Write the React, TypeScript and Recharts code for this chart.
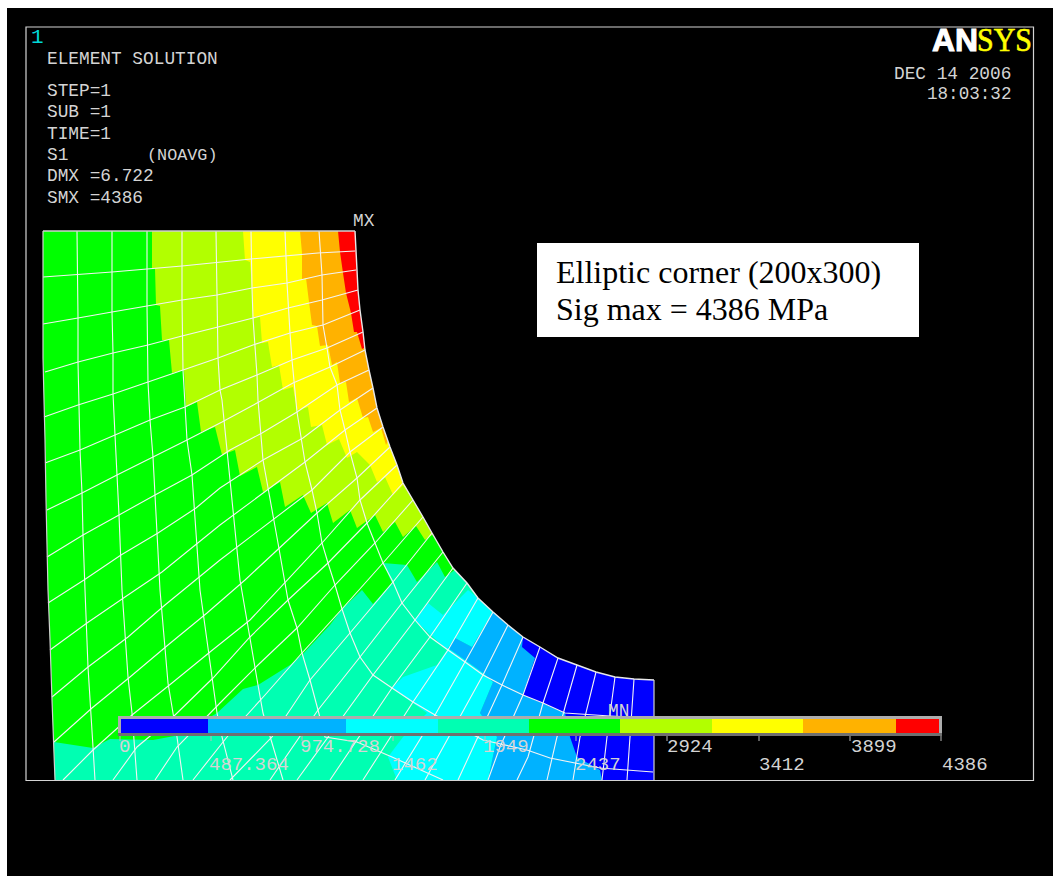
import React from 'react';
import { ScatterChart, Scatter, XAxis, YAxis } from 'recharts';

type P = [number, number];

// contour band colours, lowest to highest stress
const bandColors = ['#0000ff', '#00b2ff', '#00ffff', '#00ffb2', '#00ff00', '#b2ff00', '#ffff00', '#ffb200', '#ff0000'];
const barEdges = [121, 208, 346, 438, 529, 620, 712, 803, 896, 939];
const tickXs = [120, 211, 302, 393, 485, 576, 667, 759, 850, 941];
const legendValues = ['0', '487.364', '974.728', '1462', '1949', '2437', '2924', '3412', '3899', '4386'];
const legendLabelXs = [119, 209, 300, 392, 483, 575, 667, 759, 851, 942];
const headerLines = ['ELEMENT SOLUTION', 'STEP=1', 'SUB =1', 'TIME=1', 'S1', 'DMX =6.722', 'SMX =4386'];
const headerRows = [64, 96, 117, 139, 160, 181, 203];

const surface: P[] = [[355, 231], [357, 270], [358, 290], [360, 310], [363, 332], [365, 350], [369, 370], [373, 388], [377, 408], [383, 427], [390, 447], [397, 465], [403, 483], [413, 500], [423, 517], [432, 533], [443, 552], [453, 568], [467, 583], [478, 598], [493, 612], [508, 625], [523, 637], [540, 647], [558, 658], [577, 665], [596, 672], [615, 677], [634, 679], [654, 680]];
const leftEdge: P[] = [[43, 231], [43, 358], [44, 400], [45, 440], [46, 500], [48, 590], [50, 640], [52, 700], [55, 780]];

const greenBase: P[] = [...leftEdge, [654, 780], [654, 231]];
const limeBand: P[] = [[152, 231], [152, 268], [155, 268], [156, 305], [160, 306], [162, 340], [169, 340], [172, 373], [184, 370], [186, 407], [197, 402], [201, 432], [215, 427], [222, 455], [235, 450], [240, 476], [257, 467], [263, 492], [280, 482], [285, 507], [303, 495], [311, 513], [327, 503], [333, 523], [350, 510], [357, 528], [375, 515], [383, 532], [395, 522], [403, 537], [416, 526], [425, 540], [432, 535], [450, 540], [450, 231]];
const yellowBand: P[] = [[243, 231], [245, 260], [250, 262], [252, 288], [253, 318], [260, 317], [262, 343], [268, 342], [272, 367], [279, 365], [283, 390], [293, 387], [297, 410], [308, 407], [311, 427], [322, 425], [327, 445], [339, 439], [347, 458], [357, 452], [370, 465], [377, 482], [385, 477], [393, 495], [403, 485], [413, 500], [440, 500], [440, 231]];
const orangeBand: P[] = [[300, 231], [302, 253], [302, 280], [306, 278], [309, 302], [312, 325], [317, 326], [320, 346], [328, 345], [332, 365], [337, 362], [340, 383], [346, 382], [349, 402], [357, 398], [363, 418], [368, 417], [373, 432], [381, 428], [386, 445], [388, 441], [410, 441], [410, 231]];
const redBand: P[] = [[338, 231], [340, 252], [343, 273], [346, 293], [351, 313], [354, 332], [357, 332], [362, 349], [364, 348], [380, 348], [380, 231]];
const tealBand: P[] = [[54, 742], [93, 748], [110, 739], [153, 740], [180, 735], [217, 713], [243, 689], [258, 685], [290, 665], [302, 655], [330, 625], [342, 609], [362, 590], [373, 604], [392, 583], [383, 563], [407, 565], [417, 582], [437, 562], [445, 577], [456, 569], [654, 569], [654, 780], [55, 780]];
const cyanBand: P[] = [[415, 620], [428, 603], [443, 615], [468, 590], [480, 600], [493, 612], [472, 647], [455, 638], [448, 648], [465, 660], [483, 673], [493, 682], [480, 713], [497, 737], [488, 780], [397, 780], [388, 757], [403, 737], [427, 713], [392, 688], [403, 677], [437, 665], [447, 650]];
const skyBand: P[] = [[493, 612], [530, 612], [654, 780], [488, 780], [497, 737], [480, 713], [493, 682], [483, 673], [465, 660], [448, 648], [455, 638], [472, 647]];
const blueBand: P[] = [[523, 637], [560, 640], [654, 670], [654, 780], [602, 780], [600, 770], [577, 757], [570, 737], [565, 713], [542, 703], [523, 695], [535, 658], [522, 647]];
const outside: P[] = [...surface, [654, 780], [1033, 780], [1033, 231]];

const bandShapes: { pts: P[]; level: number }[] = [
  { pts: greenBase, level: 4 }, { pts: limeBand, level: 5 }, { pts: yellowBand, level: 6 },
  { pts: orangeBand, level: 7 }, { pts: redBand, level: 8 }, { pts: tealBand, level: 3 },
  { pts: cyanBand, level: 2 }, { pts: skyBand, level: 1 }, { pts: blueBand, level: 0 },
];

// element edges running from the free surface back to the left / bottom boundary
const meshA: P[][] = [
  [[43, 277], [112, 272], [182, 266], [251, 259], [318, 253], [355, 251]],
  [[43, 324], [78, 318], [112, 312], [147, 306], [182, 300], [217, 295], [252, 288], [287, 283], [322, 275], [356, 270]],
  [[45, 372], [78, 362], [113, 353], [148, 345], [182, 336], [218, 327], [253, 318], [288, 308], [322, 300], [358, 290]],
  [[44, 417], [78, 405], [113, 394], [148, 382], [183, 370], [218, 358], [253, 345], [290, 333], [323, 325], [360, 310]],
  [[45, 463], [80, 450], [115, 435], [150, 420], [185, 407], [220, 390], [257, 375], [292, 360], [327, 348], [363, 332]],
  [[47, 510], [82, 493], [117, 475], [153, 457], [187, 440], [222, 422], [257, 403], [293, 383], [330, 367], [365, 350]],
  [[47, 557], [83, 535], [119, 515], [155, 495], [192, 475], [230, 450], [262, 433], [297, 412], [337, 385], [369, 370]],
  [[48, 603], [84, 580], [121, 555], [158, 533], [196, 508], [220, 488], [263, 460], [303, 438], [340, 410], [373, 388]],
  [[50, 650], [87, 623], [125, 597], [162, 572], [220, 525], [305, 462], [345, 430], [377, 408]],
  [[52, 697], [88, 667], [128, 637], [165, 605], [220, 560], [312, 490], [350, 452], [383, 427]],
  [[54, 742], [92, 708], [130, 677], [168, 645], [207, 613], [245, 580], [317, 513], [357, 478], [390, 447]],
  [[63, 780], [93, 750], [132, 715], [172, 683], [210, 652], [250, 620], [322, 543], [360, 500], [397, 465]],
  [[113, 780], [137, 747], [173, 717], [213, 678], [250, 637], [288, 600], [328, 563], [367, 523], [403, 483]],
  [[155, 780], [177, 747], [220, 703], [258, 665], [297, 628], [335, 585], [375, 543], [413, 500]],
  [[193, 780], [227, 737], [265, 695], [302, 653], [342, 609], [383, 563], [423, 517]],
  [[230, 780], [272, 737], [310, 680], [350, 633], [393, 582], [432, 533]],
  [[270, 780], [318, 710], [360, 657], [402, 603], [443, 552]],
  [[297, 780], [373, 675], [415, 620], [453, 568]],
  [[330, 780], [392, 688], [430, 637], [467, 583]],
  [[363, 780], [413, 702], [448, 650], [478, 598]],
  [[395, 780], [435, 715], [465, 662], [493, 612]],
  [[425, 780], [483, 675], [508, 625]],
  [[458, 780], [502, 685], [523, 637]],
  [[488, 780], [500, 747], [523, 695], [540, 647]],
  [[517, 780], [528, 757], [543, 703], [558, 658]],
  [[547, 780], [557, 737], [565, 707], [577, 665]],
  [[573, 780], [580, 737], [596, 672]],
  [[602, 780], [607, 737], [615, 677]],
  [[627, 780], [630, 737], [634, 679]],
];

// element edges running roughly parallel to the left boundary and round the notch
const meshB: P[][] = [
  [[77, 231], [78, 318], [78, 362], [80, 450], [82, 493], [83, 535], [85, 590], [88, 667], [93, 747], [95, 780]],
  [[112, 231], [112, 312], [113, 353], [113, 394], [115, 435], [119, 515], [122, 590], [128, 677], [132, 713], [137, 780]],
  [[147, 231], [147, 306], [148, 382], [150, 420], [153, 457], [155, 495], [160, 590], [168, 683], [173, 713], [177, 737], [183, 780]],
  [[182, 231], [182, 300], [183, 370], [187, 440], [192, 475], [200, 590], [217, 713], [222, 737], [233, 780]],
  [[216, 231], [217, 295], [218, 358], [220, 390], [222, 400], [240, 580], [258, 685], [263, 713], [272, 743], [283, 780]],
  [[251, 231], [252, 288], [253, 318], [257, 375], [258, 400], [263, 460], [278, 543], [288, 600], [297, 628], [302, 653], [310, 680], [318, 710], [325, 737], [357, 742], [392, 757], [443, 780]],
  [[285, 231], [287, 283], [290, 333], [292, 360], [297, 412], [305, 462], [312, 490], [317, 513], [322, 543], [328, 563], [335, 585], [342, 609], [350, 633], [360, 657], [373, 675], [392, 688], [413, 702], [435, 715], [483, 740], [527, 750], [550, 758], [600, 768], [653, 772]],
  [[319, 231], [322, 275], [323, 325], [327, 348], [330, 367], [337, 385], [340, 410], [345, 430], [350, 452], [357, 478], [360, 500], [367, 523], [375, 543], [383, 563], [393, 582], [402, 603], [415, 620], [430, 637], [448, 650], [465, 662], [483, 675], [502, 685], [523, 695], [543, 703], [565, 713], [610, 716], [654, 718]],
];

const toPts = (a: P[]) => a.map(([x, y]) => ({ x, y }));
const noMark = () => null;

const area = (key: string, pts: P[], fill: string, stroke = 'none', strokeWidth = 1) => (
  <Scatter key={key} data={toPts(pts)} shape={noMark} isAnimationActive={false} lineJointType="linearClosed"
    line={{ fill, stroke, strokeWidth } as any} />
);
const path = (key: string, pts: P[], stroke: string, strokeWidth = 1.1) => (
  <Scatter key={key} data={toPts(pts)} shape={noMark} isAnimationActive={false}
    line={{ stroke, strokeWidth, fill: 'none' } as any} />
);
const label = (key: string, text: string, x: number, y: number, style: any) => (
  <Scatter key={key} data={[{ x, y }]} isAnimationActive={false}
    shape={(p: any) => <text x={p.cx} y={p.cy} style={{ whiteSpace: 'pre' }} {...style}>{text}</text>} />
);

const mono = { fontFamily: '"Liberation Mono", monospace', fill: '#d4d4d4' };
const serif = { fontFamily: '"Liberation Serif", serif', fill: '#000', fontSize: 32 };

export default function App() {
  return (
    <div style={{ position: 'absolute', left: 0, top: 0, width: 1053, height: 876, overflow: 'hidden', background: '#fff' }}>
      <ScatterChart width={1053} height={876} margin={{ top: 0, right: 0, bottom: 0, left: 0 }}>
        <XAxis type="number" dataKey="x" domain={[0, 1053]} hide allowDataOverflow />
        <YAxis type="number" dataKey="y" domain={[0, 876]} reversed hide allowDataOverflow />
        {area('bg', [[7, 8], [1053, 8], [1053, 876], [7, 876]], '#000')}
        {bandShapes.map((b, i) => area('band' + i, b.pts, bandColors[b.level]))}
        {area('outside', outside, '#000')}
        {meshA.map((l, i) => path('a' + i, l, '#f4f4f4'))}
        {meshB.map((l, i) => path('b' + i, l, '#f4f4f4'))}
        {path('surface', surface, '#e8e8e8', 1.4)}
        {path('left', leftEdge, '#d0d0d0', 1.2)}
        {path('top', [[43, 231], [355, 231]], '#d0d0d0', 1.4)}
        {path('right', [[654, 680], [654, 780]], '#d0d0d0', 1.2)}
        {area('frame', [[26, 27], [1033.5, 27], [1033.5, 780.5], [26, 780.5]], 'none', '#d4d4d4', 1.2)}

        {area('barFrame', [[118, 716], [942, 716], [942, 736], [118, 736]], '#adadad')}
        {area('barShade', [[118, 733], [942, 733], [942, 736], [118, 736]], '#707070')}
        {bandColors.map((c, i) =>
          area('seg' + i, [[barEdges[i], 719], [barEdges[i + 1], 719], [barEdges[i + 1], 733], [barEdges[i], 733]], c))}
        {tickXs.map((x, i) => path('tick' + i, [[x, 736], [x, 741]], '#bbbbbb', 1))}
        {legendValues.map((v, i) =>
          label('lv' + i, v, legendLabelXs[i], i % 2 === 0 ? 752 : 770, { ...mono, fontSize: 19 }))}

        {label('one', '1', 31, 43, { ...mono, fontSize: 21, fill: '#00d8d8' })}
        {headerLines.map((t, i) => label('h' + i, t, 47, headerRows[i], { ...mono, fontSize: 17.8 }))}
        {label('noavg', '(NOAVG)', 147, 160, { ...mono, fontSize: 16.8 })}
        {label('mx', 'MX', 353, 226, { ...mono, fontSize: 17.8 })}
        {label('mn', 'MN', 608, 716, { ...mono, fontSize: 17.8 })}
        {label('date', 'DEC 14 2006', 894, 79, { ...mono, fontSize: 17.8 })}
        {label('time', '18:03:32', 927, 99, { ...mono, fontSize: 17.6 })}
        {label('logoA', 'AN', 932, 51, { fontFamily: '"Liberation Sans", sans-serif', fontWeight: 700, fontSize: 31, fill: '#fff', stroke: '#fff', strokeWidth: 1, textLength: 46, lengthAdjust: 'spacingAndGlyphs' })}
        {label('logoS', 'SYS', 977, 51, { fontFamily: '"Liberation Serif", serif', fontSize: 33, fill: '#ffff00', stroke: '#ffff00', strokeWidth: 0.6, textLength: 55, lengthAdjust: 'spacingAndGlyphs' })}

        {area('note', [[537, 243], [919, 243], [919, 337], [537, 337]], '#fff')}
        {label('n1', 'Elliptic corner (200x300)', 556, 283, serif)}
        {label('n2', 'Sig max = 4386 MPa', 556, 320, serif)}
      </ScatterChart>
    </div>
  );
}
